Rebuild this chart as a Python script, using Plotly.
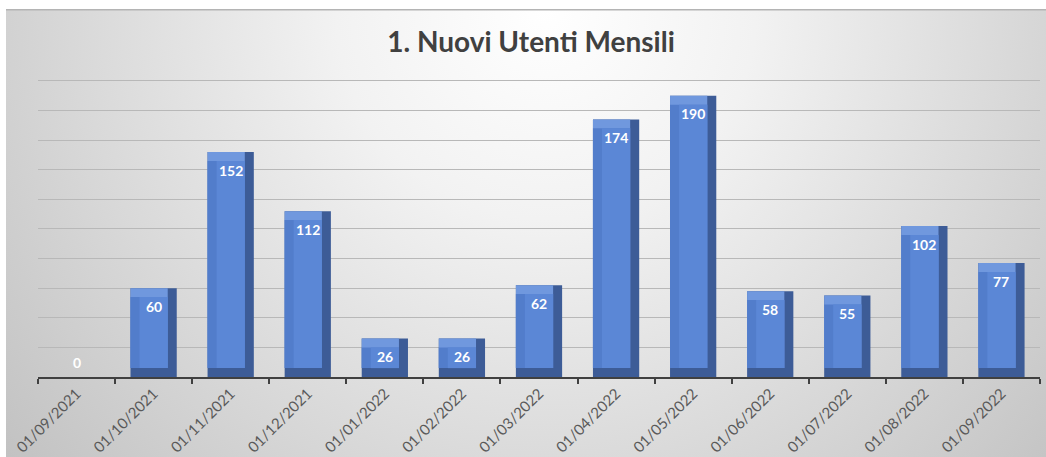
import base64
import plotly.graph_objects as go

# ---- data ----
dates = ["01/09/2021", "01/10/2021", "01/11/2021", "01/12/2021", "01/01/2022",
         "01/02/2022", "01/03/2022", "01/04/2022", "01/05/2022", "01/06/2022",
         "01/07/2022", "01/08/2022", "01/09/2022"]
values = [0, 60, 152, 112, 26, 26, 62, 174, 190, 58, 55, 102, 77]
title_text = "1. Nuovi Utenti Mensili"

# ---- style ----
W = 0.60      # bar width (category units)
BX = 0.117    # bevel width (category units)
BY = 6        # bevel height (value units)
c_dark = "#3D5C97"
c_top = "#7098DE"
c_left = "#527DCB"
c_face = "#5B87D6"

inner = [max(v - 2 * BY, 0) for v in values]
upper = [max(v - BY, 0) for v in values]

fig = go.Figure()
# dark body (right + bottom bevel)
fig.add_trace(go.Bar(x=dates, y=values, base=[0] * len(values), width=W, offset=-W / 2,
                     marker=dict(color=c_dark, line=dict(width=0)), hoverinfo="skip"))
# light top bevel
fig.add_trace(go.Bar(x=dates, y=upper, base=[BY] * len(values), width=W - BX, offset=-W / 2,
                     marker=dict(color=c_top, line=dict(width=0)), hoverinfo="skip"))
# left bevel
fig.add_trace(go.Bar(x=dates, y=inner, base=[BY] * len(values), width=W - BX, offset=-W / 2,
                     marker=dict(color=c_left, line=dict(width=0)), hoverinfo="skip"))
# face
fig.add_trace(go.Bar(x=dates, y=inner, base=[BY] * len(values), width=W - 2 * BX, offset=-W / 2 + BX,
                     marker=dict(color=c_face, line=dict(width=0)),
                     hovertemplate="%{x}: %{customdata}<extra></extra>", customdata=values))

# value labels
for d, v in zip(dates, values):
    fig.add_annotation(x=d, y=v, text=str(v), showarrow=False, yanchor="middle",
                       yshift=-18 if v > 0 else 15,
                       font=dict(family="Lato", size=14, color="white", weight="bold"))

# background gradient (SVG)
svg = """<svg xmlns='http://www.w3.org/2000/svg' width='1040' height='448' viewBox='0 0 1040 448' preserveAspectRatio='none'>
<defs><radialGradient id='g' gradientUnits='userSpaceOnUse' cx='540' cy='0' r='700'>
<stop offset='0' stop-color='#FFFFFF'/><stop offset='0.3' stop-color='#F2F2F2'/>
<stop offset='1' stop-color='#C2C2C2'/></radialGradient></defs>
<rect x='0' y='0' width='1040' height='448' fill='url(#g)'/>
<line x1='0' y1='0.75' x2='1040' y2='0.75' stroke='#B4B4B4' stroke-width='1.5'/>
</svg>"""
src = "data:image/svg+xml;base64," + base64.b64encode(svg.encode()).decode()

L, R, T, B = 38, 6, 78, 80
WIDTH, HEIGHT = 1046, 457
pw = WIDTH - L - R
ph = HEIGHT - T - B
fig.add_layout_image(source=src, xref="paper", yref="paper",
                     x=(6 - L) / pw, y=(HEIGHT - B - 9) / ph,
                     sizex=(WIDTH - 6) / pw, sizey=(HEIGHT - 9) / ph,
                     xanchor="left", yanchor="top", sizing="stretch", layer="below")

fig.update_layout(
    width=WIDTH, height=HEIGHT,
    margin=dict(l=L, r=R, t=T, b=B, autoexpand=False),
    barmode="overlay",
    showlegend=False,
    paper_bgcolor="white",
    plot_bgcolor="rgba(0,0,0,0)",
    title=dict(text=title_text, xref="container", yref="container",
               x=531 / WIDTH, y=1 - 42 / HEIGHT, xanchor="center", yanchor="middle",
               font=dict(family="Lato", size=28, color="#404040", weight="bold")),
    xaxis=dict(type="category", showline=True, linecolor="#404040", linewidth=2,
               ticks="outside", tickson="boundaries", ticklen=5, tickwidth=2, tickcolor="#404040",
               tickangle=-45, tickfont=dict(family="Lato", size=15, color="#595959"),
               showgrid=False, range=[-0.5, len(dates) - 0.5], automargin=False),
    yaxis=dict(range=[0, 202], tickvals=list(range(0, 201, 20)), showticklabels=False, showgrid=True,
               gridcolor="#B8B8B8", gridwidth=1.3, zeroline=False, showline=False,
               automargin=False),
)

fig.write_html("out.html", config={"displayModeBar": False},
               post_script="document.body.style.margin='0';document.body.style.overflow='hidden';")
